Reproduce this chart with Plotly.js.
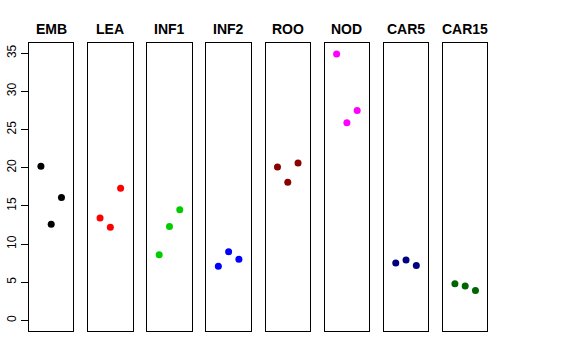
<!DOCTYPE html>
<html>
<head>
<meta charset="utf-8">
<script src="https://cdn.plot.ly/plotly-3.0.1.min.js"></script>
<style>html,body{margin:0;padding:0;background:#fff}#chart{width:576px;height:360px}</style>
</head>
<body>
<div id="chart"></div>
<script>
const categories = ["EMB", "LEA", "INF1", "INF2", "ROO", "NOD", "CAR5", "CAR15"];
const colors = ["#000000", "#FF0000", "#00CD00", "#0000FF", "#8B0000", "#FF00FF", "#000080", "#006400"];
const replicate = [1, 2, 3];
const valEMB = [20.2, 12.6, 16.1];
const valLEA = [13.4, 12.2, 17.3];
const valINF1 = [8.6, 12.3, 14.5];
const valINF2 = [7.1, 9.0, 8.0];
const valROO = [20.1, 18.1, 20.6];
const valNOD = [34.9, 25.9, 27.5];
const valCAR5 = [7.5, 7.9, 7.2];
const valCAR15 = [4.8, 4.5, 3.9];
const series = [valEMB, valLEA, valINF1, valINF2, valROO, valNOD, valCAR5, valCAR15];
const yTicks = [0, 5, 10, 15, 20, 25, 30, 35];

const W = 576, H = 360;
const left0 = 29, pw = 44.4, step = 59.14;
const yBot = 1 - 331 / H, yTop = 1 - 43.3 / H;
const ymax = 34.9;
const yr = [0 - 0.04 * ymax, ymax + 0.04 * ymax];
const xr = [0 - 0.04 * 4, 4 + 0.04 * 4];

const traces = [];
const layout = {
  width: W, height: H,
  margin: {l: 0, r: 0, t: 0, b: 0},
  paper_bgcolor: "#fff", plot_bgcolor: "#fff",
  showlegend: false,
  font: {family: "Liberation Sans, Arial, sans-serif", color: "#000", size: 12},
  annotations: []
};
categories.forEach((c, i) => {
  const n = i === 0 ? "" : String(i + 1);
  traces.push({
    type: "scatter", mode: "markers",
    x: replicate, y: series[i],
    xaxis: "x" + n, yaxis: "y" + n,
    marker: {color: colors[i], size: 7, line: {width: 0}},
    hoverinfo: "skip"
  });
  const l = (left0 + step * i) / W, r = (left0 + step * i + pw) / W;
  layout["xaxis" + n] = {
    domain: [l, r], range: xr, showgrid: false, zeroline: false,
    showticklabels: false, ticks: "", showline: true, mirror: true,
    linecolor: "#000", linewidth: 1, anchor: "y" + n, fixedrange: true
  };
  layout["yaxis" + n] = {
    domain: [yBot, yTop], range: yr, showgrid: false, zeroline: false,
    showline: true, mirror: true, linecolor: "#000", linewidth: 1,
    anchor: "x" + n, fixedrange: true,
    showticklabels: i === 0, ticks: i === 0 ? "outside" : "",
    ticklen: 7, tickcolor: "#000", tickvals: yTicks, tickangle: -90,
    tickfont: {size: 12, color: "#000"}
  };
  layout.annotations.push({
    text: "<b>" + c + "</b>", xref: "paper", yref: "paper",
    x: (l + r) / 2, y: 1 - 29.3 / H, xanchor: "center", yanchor: "middle",
    showarrow: false, font: {size: 14, color: "#000"}
  });
});
Plotly.newPlot("chart", traces, layout, {staticPlot: true, displayModeBar: false});
</script>
</body>
</html>
